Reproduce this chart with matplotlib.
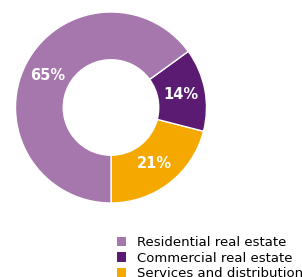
import matplotlib.pyplot as plt
from matplotlib.patches import Patch

# data (drawn counterclockwise from the bottom)
labels = ["Services and distribution", "Commercial real estate", "Residential real estate"]
shares = [21, 14, 65]
colors = ["#F5A800", "#5B1B72", "#A677AC"]

# legend order as shown in the picture
legend_order = [2, 1, 0]

fig = plt.figure(figsize=(3.02, 2.77), dpi=100)
ax = fig.add_axes([15 / 302, (277 - 203) / 277, 192 / 302, 191 / 277])

wedges, texts, autotexts = ax.pie(
    shares,
    colors=colors,
    startangle=-90,
    counterclock=True,
    autopct="%d%%",
    pctdistance=0.74,
    radius=1,
    wedgeprops=dict(width=0.5, edgecolor="white", linewidth=1),
    textprops=dict(color="white", fontweight="bold", fontsize=10.5),
)
ax.set_xlim(-1, 1)
ax.set_ylim(-1, 1)
ax.set_aspect("equal")
ax.axis("off")

handles = [Patch(facecolor=colors[i], edgecolor="none") for i in legend_order]
fig.legend(
    handles,
    [labels[i] for i in legend_order],
    loc="upper left",
    bbox_to_anchor=(117 / 302, 1 - 236 / 277),
    frameon=False,
    fontsize=9.5,
    handlelength=0.7,
    handleheight=0.7,
    handletextpad=0.8,
    labelspacing=0.2,
    borderpad=0,
    borderaxespad=0,
)

fig.savefig("out.png", dpi=100)
